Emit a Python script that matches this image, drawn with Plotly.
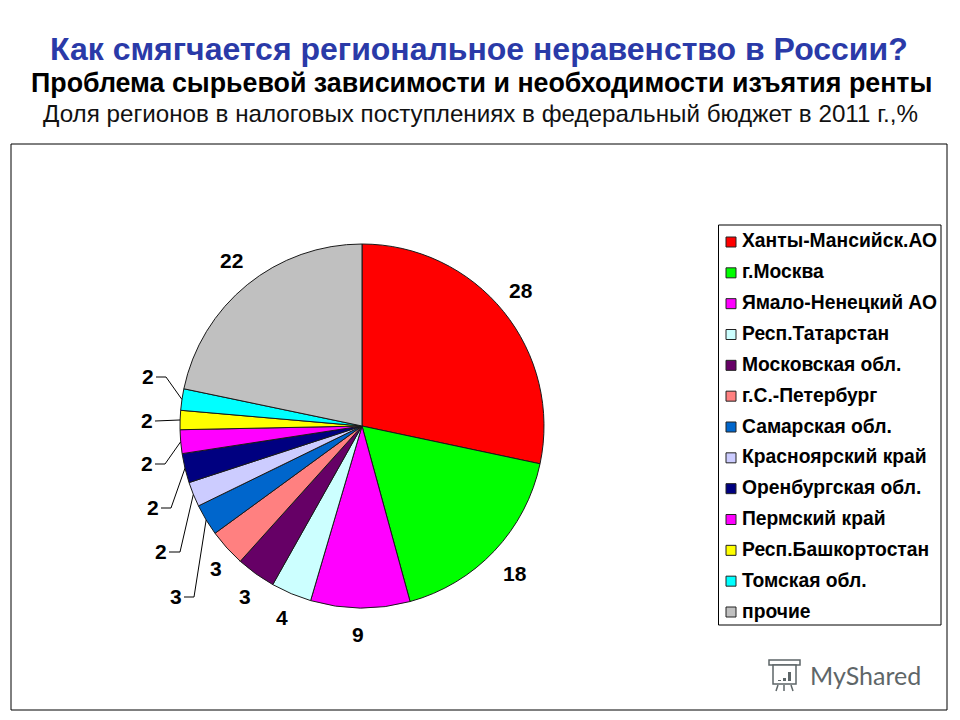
import math
import plotly.graph_objects as go

regions = ["Ханты-Мансийск.АО", "г.Москва", "Ямало-Ненецкий АО", "Респ.Татарстан",
           "Московская обл.", "г.С.-Петербург", "Самарская обл.", "Красноярский край",
           "Оренбургская обл.", "Пермский край", "Респ.Башкортостан", "Томская обл.", "прочие"]
values = [28.3, 17.4, 8.8, 3.6, 3.5, 3.3, 2.8, 2.2, 2.6, 2.1, 1.7, 1.9, 21.7]
shown_labels = ["28", "18", "9", "4", "3", "3", "3", "2", "2", "2", "2", "2", "22"]
colors = ["#FF0000", "#00FF00", "#FF00FF", "#CCFFFF", "#660066", "#FF8080", "#0066CC",
          "#CCCCFF", "#000080", "#FF00FF", "#FFFF00", "#00FFFF", "#C0C0C0"]

W, H = 960, 720
CX, CY, R = 362, 426, 182
def px(x): return x / W
def py(y): return 1 - y / H

# label positions in pixels
label_xy = [(521, 291), (515, 574), (358, 635), (282, 618), (245, 597), (216, 569), (176, 597),
            (161, 552), (153, 508), (147, 464), (147, 421), (148, 377), (231, 261)]
# leader: index -> (label side x, elbow x)
leaders = {6: (184, 194), 7: (169, 180), 8: (161, 171), 9: (155, 165), 10: (155, 155), 11: (156, 166)}

fig = go.Figure(go.Pie(
    labels=regions, values=values, sort=False, direction="clockwise", rotation=0,
    marker=dict(colors=colors, line=dict(color="#1a1a1a", width=1)),
    textinfo="none", hoverinfo="label+value", showlegend=False,
    domain=dict(x=[px(CX - R), px(CX + R)], y=[py(CY + R), py(CY - R)]),
))

shapes = [dict(type="rect", xref="paper", yref="paper", x0=px(11), x1=px(947), y0=py(144), y1=py(710),
               line=dict(color="black", width=1), layer="below"),
          dict(type="rect", xref="paper", yref="paper", x0=px(718.5), x1=px(941), y0=py(225), y1=py(625),
               line=dict(color="black", width=1), fillcolor="white", layer="below")]
annotations = []

def text(x, y, s, size, color="black", bold=False, anchor="center", family="Liberation Sans"):
    annotations.append(dict(xref="paper", yref="paper", x=px(x), y=py(y), text=f"<b>{s}</b>" if bold else s,
                            showarrow=False, xanchor=anchor, yanchor="middle",
                            font=dict(size=size, color=color, family=family)))

text(479, 49, "Как смягчается региональное неравенство в России?", 32, "#2A3AA8", True)
text(481, 83, "Проблема сырьевой зависимости и необходимости изъятия ренты", 26.8, "black", True)
text(480, 113, "Доля регионов в налоговых поступлениях в федеральный бюджет в 2011 г.,%", 24.2, "#111111")

# data labels and leaders
total = sum(values)
cum = 0
for i, v in enumerate(values):
    mid = (cum + v / 2) / total * 2 * math.pi
    cum += v
    lx, ly = label_xy[i]
    text(lx, ly - 1, shown_labels[i], 21, "black", True)
    if i in leaders:
        x0, xe = leaders[i]
        ex, ey = CX + R * math.sin(mid), CY - R * math.cos(mid)
        path = f"M {px(x0)} {py(ly)} L {px(xe)} {py(ly)} L {px(ex)} {py(ey)}"
        shapes.append(dict(type="path", xref="paper", yref="paper", path=path, line=dict(color="black", width=1)))

# legend
step = (611 - 241) / 12
for i, name in enumerate(regions):
    y = 241 + i * step
    shapes.append(dict(type="rect", xref="paper", yref="paper", x0=px(726), x1=px(736), y0=py(y - 5 + 1), y1=py(y + 5 + 1),
                       fillcolor=colors[i], line=dict(color="#222", width=1)))
    text(739.5, y, name, 19.3, "black", True, "left")

# watermark
text(865, 675, "MyShared", 25, "#5E6668", False, "center", "Lato")
g = "#5E6668"
for a, b, c, d in [(769, 660, 800, 665), (773, 665, 796, 684)]:
    shapes.append(dict(type="rect", xref="paper", yref="paper", x0=px(a), x1=px(c), y0=py(b), y1=py(d),
                       line=dict(color=g, width=1.5), fillcolor="white"))
for a, b in [(778, 680), (783, 678), (788, 672)]:
    shapes.append(dict(type="rect", xref="paper", yref="paper", x0=px(a), x1=px(a + 3), y0=py(b), y1=py(681),
                       line=dict(width=0), fillcolor=g))
for a, b in [(778, 776), (784, 784), (791, 793)]:
    shapes.append(dict(type="line", xref="paper", yref="paper", x0=px(a), x1=px(b), y0=py(685), y1=py(691),
                       line=dict(color=g, width=1.5)))

fig.update_layout(width=W, height=H, margin=dict(l=0, r=0, t=0, b=0), paper_bgcolor="white",
                  shapes=shapes, annotations=annotations)
fig.write_html("out.html", config=dict(displayModeBar=False), post_script="document.body.style.margin='0';")
